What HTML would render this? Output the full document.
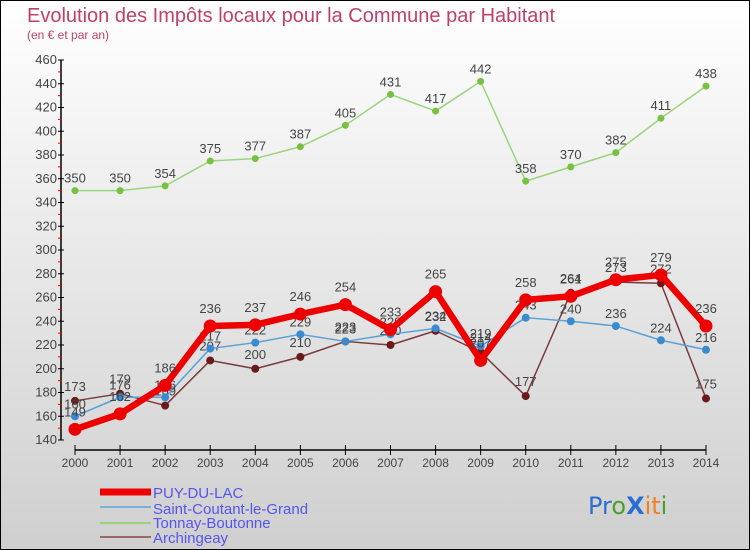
<!DOCTYPE html>
<html><head><meta charset="utf-8"><style>
body{margin:0;width:750px;height:550px;overflow:hidden;font-family:"Liberation Sans",sans-serif;}
svg{display:block}
</style></head><body>
<svg id="chart" width="750" height="550" viewBox="0 0 750 550" font-family="'Liberation Sans',sans-serif">
<defs><linearGradient id="bg" x1="0" y1="0" x2="0" y2="1"><stop offset="0" stop-color="#ffffff"/><stop offset="1" stop-color="#cfcfcf"/></linearGradient></defs>
<rect x="0" y="0" width="750" height="550" fill="url(#bg)" stroke="#000" stroke-width="2"/>
<text x="27" y="22" font-size="20" fill="#c0406a">Evolution des Impôts locaux pour la Commune par Habitant</text>
<text x="27" y="39" font-size="12" fill="#c0406a">(en € et par an)</text>
<g id="axes"></g>
<g id="series"></g>
<g id="legend" font-size="15" fill="#5555ee">
<line x1="100" y1="492" x2="151" y2="492" stroke="#ee0000" stroke-width="7"/>
<text x="153" y="498">PUY-DU-LAC</text>
<line x1="100" y1="507" x2="151" y2="507" stroke="#7ab0d8" stroke-width="2"/>
<text x="153" y="514">Saint-Coutant-le-Grand</text>
<line x1="100" y1="523" x2="151" y2="523" stroke="#99d47a" stroke-width="2"/>
<text x="153" y="528">Tonnay-Boutonne</text>
<line x1="100" y1="537" x2="151" y2="537" stroke="#9a6a6a" stroke-width="2"/>
<text x="153" y="543">Archingeay</text>
</g>
<g font-size="24" font-family="'DejaVu Sans',sans-serif">
<text x="588" y="514"><tspan fill="#2a6fd0">Pr</tspan><tspan fill="#4aa02a">o</tspan><tspan fill="#2a6fd0" font-weight="bold">X</tspan><tspan fill="#f08020">it</tspan><tspan fill="#4aa02a">i</tspan></text>
</g>
</svg>
<script>
const years=[2000,2001,2002,2003,2004,2005,2006,2007,2008,2009,2010,2011,2012,2013,2014];
const yTicks=[140,160,180,200,220,240,260,280,300,320,340,360,380,400,420,440,460];
const puy=[149,162,186,236,237,246,254,233,265,207,258,261,275,279,236];
const stCoutant=[160,176,176,217,222,229,223,229,234,219,243,240,236,224,216];
const tonnay=[350,350,354,375,377,387,405,431,417,442,358,370,382,411,438];
const archingeay=[173,179,169,207,200,210,223,220,232,214,177,264,273,272,175];
const NS="http://www.w3.org/2000/svg";
const xS=i=>75+i*(706-75)/(years.length-1);
const yS=v=>440-(v-140)*(380/320);
function mk(t,a,p){const e=document.createElementNS(NS,t);for(const k in a)e.setAttribute(k,a[k]);p.appendChild(e);return e;}
const ax=document.getElementById('axes');
const yl=mk('line',{x1:61,y1:60,x2:61,y2:440,stroke:'#000','stroke-width':1.5},ax);


yTicks.forEach((v,i)=>{
 mk('line',{x1:58,y1:yS(v),x2:64,y2:yS(v),stroke:'#000'},ax);
 if(i<yTicks.length-1) mk('line',{x1:58,y1:yS(v+10),x2:62,y2:yS(v+10),stroke:'#e00'},ax);
 const t=mk('text',{x:57,y:yS(v)+4,'text-anchor':'end','font-size':13,fill:'#444'},ax);
 t.textContent=v;
 
 
});
const xl=mk('line',{x1:75,y1:450,x2:706,y2:450,stroke:'#000','stroke-width':1.5},ax);


years.forEach((y,i)=>{
 mk('line',{x1:xS(i),y1:445,x2:xS(i),y2:455,stroke:'#000'},ax);
 const t=mk('text',{x:xS(i),y:467,'text-anchor':'middle','font-size':12,fill:'#444'},ax);
 t.textContent=y;
 
 
});
const sg=document.getElementById('series');
function draw(name,data,color,lw,r,dot,lblDy){
 const g=mk('g',{},sg);
 
 
 const pl=mk('polyline',{points:data.map((v,i)=>xS(i)+','+yS(v)).join(' '),fill:'none',stroke:color,'stroke-width':lw,'stroke-linejoin':'round'},g);
 
 
 data.forEach((v,i)=>{
  const c=mk('circle',{cx:xS(i),cy:yS(v),r:r,fill:dot},g);
  
  
  const t=mk('text',{x:xS(i),y:yS(v)+lblDy,'text-anchor':'middle','font-size':13,fill:'#444'},g);
  t.textContent=v;
  
  
 });
}
draw('tonnay-boutonne',tonnay,'#99d47a',1.5,3.5,'#77c040',-8);
draw('archingeay',archingeay,'#7a3a3a',1.5,4,'#6a1a1a',-10);
draw('saint-coutant',stCoutant,'#5aa0d8',1.5,4,'#3a8ad0',-8);
draw('puy-du-lac',puy,'#ee0000',6.5,6.5,'#ee0000',-13);
</script>
</body></html>
